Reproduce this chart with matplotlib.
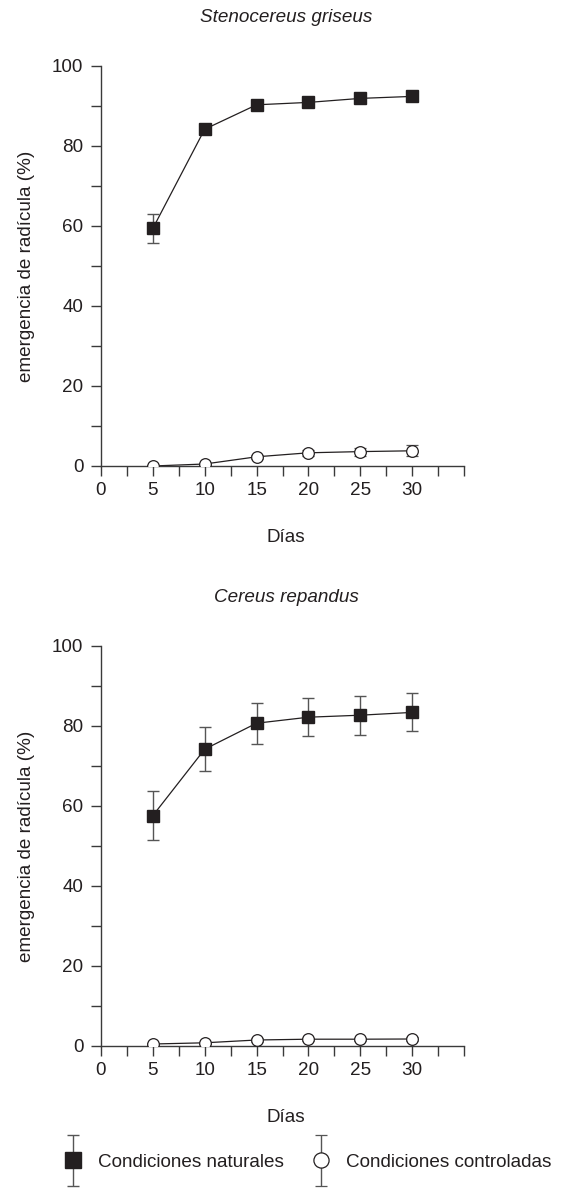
import matplotlib
matplotlib.use("Agg")
import matplotlib.pyplot as plt
from matplotlib.legend_handler import HandlerErrorbar

plt.rcParams['font.family'] = ['Liberation Sans', 'DejaVu Sans']

# ---- data ----
dias = [5, 10, 15, 20, 25, 30]

sg_nat = [59.4, 84.2, 90.3, 90.9, 91.9, 92.4]
sg_nat_err = [3.6, 0.8, 0.8, 0.8, 0.8, 0.8]
sg_con = [0.0, 0.5, 2.3, 3.3, 3.6, 3.8]
sg_con_err = [0.3, 0.3, 0.5, 0.8, 1.0, 1.4]

cr_nat = [57.6, 74.2, 80.7, 82.2, 82.7, 83.4]
cr_nat_err = [6.2, 5.5, 5.1, 4.8, 4.85, 4.75]
cr_con = [0.5, 0.8, 1.5, 1.7, 1.7, 1.75]
cr_con_err = [0.3, 0.3, 0.4, 0.4, 0.4, 0.4]

titles = ["Stenocereus griseus", "Cereus repandus"]
xlabel = "Días"
ylabel = "emergencia de radícula (%)"
labels = ["Condiciones naturales", "Condiciones controladas"]
xtick_pos = [0, 2.5, 5, 7.5, 10, 12.5, 15, 17.5, 20, 22.5, 25, 27.5, 30, 32.5, 35]
xtick_lab = ["0", "", "5", "", "10", "", "15", "", "20", "", "25", "", "30", "", ""]
ytick_pos = [0, 10, 20, 30, 40, 50, 60, 70, 80, 90, 100]
ytick_lab = ["0", "", "20", "", "40", "", "60", "", "80", "", "100"]

# ---- style ----
INK = '#231f20'
AX = '#3a3a3a'
ERR = '#555555'
FS = 13.6

W, H = 565, 1191
fig = plt.figure(figsize=(W / 100, H / 100), dpi=100)

left = 101 / W
width = 363 / W
ax_h = 400 / H
bottoms = [1 - 466 / H, 1 - 1046 / H]

panels = [
    (sg_nat, sg_nat_err, sg_con, sg_con_err),
    (cr_nat, cr_nat_err, cr_con, cr_con_err),
]

handles = None
for i, (nat, nat_e, con, con_e) in enumerate(panels):
    ax = fig.add_axes([left, bottoms[i], width, ax_h])
    ax.plot(dias, nat, '-', color=INK, lw=0.9, zorder=2)
    ax.plot(dias, con, '-', color=INK, lw=0.9, zorder=2)
    h1 = ax.errorbar(dias, nat, yerr=nat_e, fmt='s', ls='none', color=INK,
                     ms=9.2, mfc=INK, mec=INK, ecolor=ERR, elinewidth=1.0,
                     capsize=4, capthick=1.0, zorder=3, label=labels[0])
    h2 = ax.errorbar(dias, con, yerr=con_e, fmt='o', ls='none', color=INK,
                     ms=8.4, mfc='white', mec=INK, mew=0.9, ecolor=ERR,
                     elinewidth=1.0, capsize=4, capthick=1.0, zorder=3,
                     label=labels[1])
    if i == 1:
        handles = [h1, h2]

    ax.set_xlim(0, 35)
    ax.set_ylim(0, 100)
    ax.set_xticks(xtick_pos)
    ax.set_xticklabels(xtick_lab)
    ax.set_yticks(ytick_pos)
    ax.set_yticklabels(ytick_lab)
    for s in ['top', 'right']:
        ax.spines[s].set_visible(False)
    for s in ['left', 'bottom']:
        ax.spines[s].set_color(AX)
        ax.spines[s].set_linewidth(1.0)
    ax.tick_params(axis='both', direction='out', length=7.2, width=1.0,
                   color=AX, labelsize=FS, labelcolor=INK)
    ax.tick_params(axis='x', pad=4)
    ax.tick_params(axis='y', pad=5.5)
    ax.set_xlabel(xlabel, fontsize=FS, color=INK)
    ax.xaxis.set_label_coords(0.5 + 3.5 / 363, -71 / 400)
    ax.xaxis.label.set_va('center')
    ax.set_ylabel(ylabel, fontsize=FS, color=INK)
    ax.yaxis.set_label_coords(-74 / 363, 0.5)
    ax.yaxis.label.set_va('center')
    ax.text(0.5 + 3.5 / 363, 1 + 49 / 400, titles[i], transform=ax.transAxes,
            ha='center', va='center', fontsize=FS, style='italic', color=INK)
    ax.patch.set_alpha(0)

hm = {type(handles[0]): HandlerErrorbar(xerr_size=0.2, yerr_size=1.35)}
leg = fig.legend(handles, labels, loc='center left',
                 bbox_to_anchor=(63.6 / W, 1 - 1162 / H), ncol=2, frameon=False,
                 fontsize=FS, handlelength=1.0, handletextpad=0.82,
                 columnspacing=1.46, borderpad=0, borderaxespad=0,
                 markerscale=1.3, handler_map=hm)
for t in leg.get_texts():
    t.set_color(INK)

fig.savefig("out.png", dpi=100)
